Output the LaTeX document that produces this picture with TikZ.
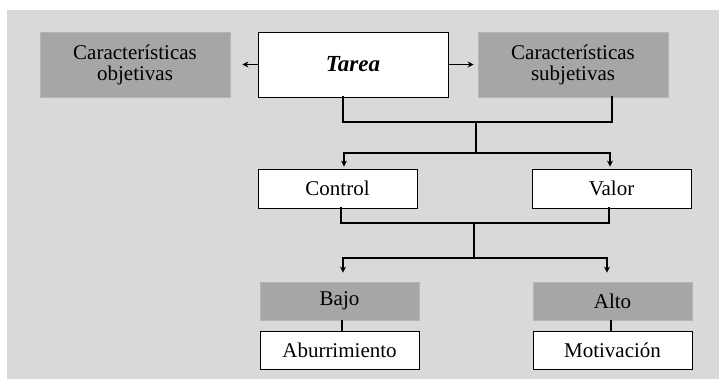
\documentclass[tikz,border=0pt]{standalone}
\usepackage{fontspec}
\setmainfont{Liberation Serif}
\usetikzlibrary{arrows.meta}
\definecolor{panel}{HTML}{D9D9D9}
\definecolor{darkbox}{HTML}{A6A6A6}
\definecolor{darkedge}{HTML}{B4B4B4}
\tikzset{
  whitebox/.style={draw=black, line width=0.8pt, fill=white, inner sep=0pt, align=center,
    font=\fontsize{21}{24}\selectfont},
  graybox/.style={draw=darkedge, line width=0.8pt, fill=darkbox, inner sep=0pt, align=center,
    font=\fontsize{21}{24}\selectfont},
  big/.style={minimum width=190pt, minimum height=65pt},
  small/.style={minimum width=159pt, minimum height=38pt},
  link/.style={line width=1.9pt, line cap=rect},
  arr/.style={line width=1.9pt, -{Stealth[length=6pt,width=6pt]}},
}
\begin{document}
\begin{tikzpicture}[x=1pt,y=-1pt]
\useasboundingbox (0,0) rectangle (719,379);
\fill[panel] (7,10) rectangle (719,379);

% top row
\node[whitebox,big] (tarea) at (353,64.5) {\fontsize{23}{26}\selectfont\textbf{\textit{Tarea}}};
\node[graybox,big] (obj) at (135,64.5) {Características\\[-3pt]objetivas};
\node[graybox,big] (subj) at (573,64.5) {Características\\[-3pt]subjetivas};

% middle row
\node[whitebox,small,minimum height=39pt] (control) at (337.5,188.5) {Control};
\node[whitebox,small,minimum height=39pt] (valor) at (611.5,188.5) {Valor};

% bottom rows
\node[graybox,small] (bajo) at (339.5,301) {Bajo};
\node[graybox,small] (alto) at (612.5,301) {Alto};
\node[whitebox,small] (abur) at (339.5,350) {Aburrimiento};
\node[whitebox,small] (motiv) at (612.5,350) {Motivación};

% side arrows from the task
\draw[arr, shorten >=12pt] (tarea.west) -- (obj.east);
\draw[arr, shorten >=4pt] (tarea.east) -- (subj.west);

% first junction
\coordinate (a1) at (343,122);
\coordinate (a2) at (612,122);
\coordinate (a3) at (476,122);
\coordinate (a4) at (476,153);
\coordinate (a5) at (344,153);
\coordinate (a6) at (610,153);
\draw[link] (tarea.south -| a1) -- (a1) -- (a2) -- (subj.south -| a2);
\draw[link] (a3) -- (a4);
\draw[link] (a5) -- (a6);
\draw[arr, shorten >=2pt] (a5) -- (control.north -| a5);
\draw[arr, shorten >=2pt] (a6) -- (valor.north -| a6);

% second junction
\coordinate (b1) at (341,223);
\coordinate (b2) at (609,223);
\coordinate (b3) at (474,223);
\coordinate (b4) at (474,258);
\coordinate (b5) at (343,258);
\coordinate (b6) at (607,258);
\draw[link] (control.south -| b1) -- (b1) -- (b2) -- (valor.south -| b2);
\draw[link] (b3) -- (b4);
\draw[link] (b5) -- (b6);
\draw[arr, shorten >=9pt] (b5) -- (bajo.north -| b5);
\draw[arr, shorten >=9pt] (b6) -- (alto.north -| b6);

% outcome links
\coordinate (c1) at (342,0);
\coordinate (c2) at (611,0);
\draw[link, line cap=butt] (bajo.south -| c1) -- (abur.north -| c1);
\draw[link, line cap=butt] (alto.south -| c2) -- (motiv.north -| c2);
\end{tikzpicture}
\end{document}
